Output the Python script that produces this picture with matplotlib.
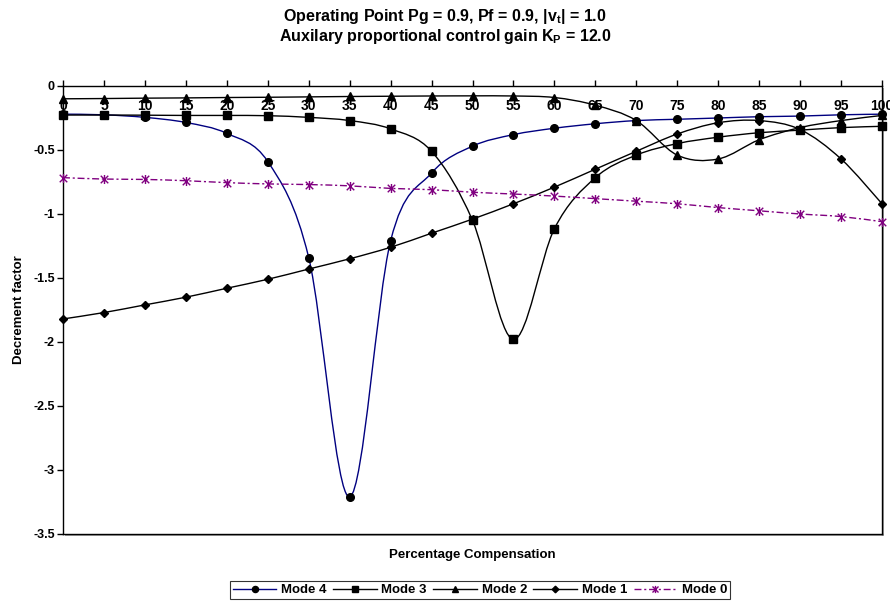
import matplotlib
matplotlib.use("Agg")
import matplotlib.pyplot as plt
import numpy as np
from matplotlib.lines import Line2D
from matplotlib.patches import PathPatch, Rectangle
from matplotlib.path import Path
from matplotlib.transforms import offset_copy

plt.rcParams["font.family"] = ["Liberation Sans", "DejaVu Sans"]
plt.rcParams["font.weight"] = "bold"
plt.rcParams["mathtext.fontset"] = "custom"
plt.rcParams["mathtext.rm"] = "Liberation Sans:bold"
plt.rcParams["mathtext.it"] = "Liberation Sans:bold"
plt.rcParams["mathtext.bf"] = "Liberation Sans:bold"

# Percentage compensation (x axis)
compensation = [0, 5, 10, 15, 20, 25, 30, 35, 40, 45, 50,
                55, 60, 65, 70, 75, 80, 85, 90, 95, 100]

mode4 = [-0.22, -0.225, -0.245, -0.285, -0.37, -0.59, -1.34, -3.21, -1.21, -0.68, -0.47,
         -0.38, -0.33, -0.295, -0.27, -0.26, -0.25, -0.24, -0.235, -0.225, -0.22]
mode3 = [-0.227, -0.227, -0.228, -0.23, -0.23, -0.232, -0.245, -0.27, -0.335, -0.51, -1.05,
         -1.98, -1.115, -0.716, -0.54, -0.45, -0.40, -0.365, -0.345, -0.325, -0.315]
mode2 = [-0.10, -0.098, -0.095, -0.093, -0.09, -0.088, -0.085, -0.082, -0.08, -0.078, -0.077,
         -0.078, -0.09, -0.15, -0.27, -0.54, -0.57, -0.42, -0.325, -0.27, -0.23]
mode1 = [-1.82, -1.77, -1.71, -1.65, -1.58, -1.51, -1.43, -1.35, -1.26, -1.15, -1.04,
         -0.92, -0.79, -0.65, -0.51, -0.375, -0.287, -0.27, -0.34, -0.57, -0.92]
mode0 = [-0.716, -0.727, -0.73, -0.74, -0.755, -0.765, -0.77, -0.78, -0.80, -0.81, -0.83,
         -0.844, -0.86, -0.88, -0.90, -0.92, -0.95, -0.975, -1.0, -1.02, -1.06]

y_ticks = [0, -0.5, -1, -1.5, -2, -2.5, -3, -3.5]
y_tick_labels = ["0", "-0.5", "-1", "-1.5", "-2", "-2.5", "-3", "-3.5"]

NAVY = "#000080"
PURPLE = "#800080"

# Excel-style asterisk marker: an x with a vertical stroke
star = Path([(-1, -1), (1, 1), (-1, 1), (1, -1), (0, -1.2), (0, 1.2)],
            [Path.MOVETO, Path.LINETO, Path.MOVETO, Path.LINETO, Path.MOVETO, Path.LINETO])


def smooth_path(x, y):
    """Bezier path through the points, like Excel's smoothed line."""
    pts = np.column_stack([x, y]).astype(float)
    n = len(pts)
    verts = [pts[0]]
    codes = [Path.MOVETO]
    for i in range(n - 1):
        p0 = pts[max(i - 1, 0)]
        p1 = pts[i]
        p2 = pts[i + 1]
        p3 = pts[min(i + 2, n - 1)]
        verts += [p1 + (p2 - p0) / 6, p2 - (p3 - p1) / 6, p2]
        codes += [Path.CURVE4] * 3
    return Path(verts, codes)


series = [
    ("Mode 4", mode4, NAVY, "-", dict(marker="o", color="black", ms=5.5)),
    ("Mode 3", mode3, "black", "-", dict(marker="s", color="black", ms=5.5)),
    ("Mode 2", mode2, "black", "-", dict(marker="^", color="black", ms=5.5)),
    ("Mode 1", mode1, "black", "-", dict(marker="D", color="black", ms=4.2)),
    ("Mode 0", mode0, PURPLE, (0, (5, 2, 1.5, 2)),
     dict(marker=star, color=PURPLE, ms=6.5, mew=1.0)),
]

fig = plt.figure(figsize=(8.9, 6.06), dpi=100)
ax = fig.add_axes([63 / 890, 1 - 534 / 606, (882 - 63) / 890, (534 - 86) / 606])

# plot-area shadow
shadow = Rectangle((0, 0), 1, 1, transform=offset_copy(ax.transAxes, fig=fig, x=1.5, y=-1.5, units="dots"),
                   facecolor="#a0a0a0", edgecolor="none", zorder=-1, clip_on=False)
fig.patches.append(shadow)
ax.set_facecolor("white")

handles = []
for name, vals, lcolor, ls, mk in series:
    ax.add_patch(PathPatch(smooth_path(compensation, vals), fill=False,
                           edgecolor=lcolor, lw=1.0, linestyle=ls, zorder=2))
    ax.plot(compensation, vals, linestyle="none", marker=mk["marker"],
            markersize=mk["ms"], color=mk["color"], mec=mk["color"],
            mew=mk.get("mew", 1.0), zorder=3, clip_on=False)
    handles.append(Line2D([], [], color=lcolor, lw=1.0, linestyle=ls,
                          marker=mk["marker"], markersize=mk["ms"] * 0.8,
                          mfc=mk["color"], mec=mk["color"], mew=mk.get("mew", 1.0),
                          label=name))

ax.set_xlim(0, 100)
ax.set_ylim(-3.5, 0)
for s in ax.spines.values():
    s.set_color("black")
    s.set_linewidth(1.0)

ax.set_yticks(y_ticks)
ax.set_yticklabels(y_tick_labels, fontsize=9, fontweight="bold")
ax.tick_params(axis="y", direction="out", length=4, width=1, pad=2)

# category axis sits on y = 0 with labels drawn just below it
ax.set_xticks(compensation)
ax.tick_params(axis="x", top=True, bottom=False, labelbottom=False,
               direction="out", length=4, width=1)
for xv in compensation:
    ax.annotate(str(xv), (xv, 0), xytext=(0, -9), textcoords="offset points",
                ha="center", va="top", fontsize=10, fontweight="bold", zorder=4)

ax.set_xlabel("Percentage Compensation", fontsize=9.5, fontweight="bold", labelpad=11)
ax.set_ylabel("Decrement factor", fontsize=9.5, fontweight="bold", labelpad=6)

fig.text(0.5, 1 - 16 / 606, r"Operating Point Pg = 0.9, Pf = 0.9, |v$_\mathrm{t}$| = 1.0",
         ha="center", va="center", fontsize=11.5, fontweight="bold")
fig.text(0.5, 1 - 37 / 606, r"Auxilary proportional control gain K$_\mathrm{P}$ = 12.0",
         ha="center", va="center", fontsize=11.5, fontweight="bold")

leg = fig.legend(handles=handles, loc="center", bbox_to_anchor=(480 / 890, 1 - 590 / 606),
                 ncol=5, fontsize=9.5, frameon=True, fancybox=False, handlelength=3.3,
                 columnspacing=0.5, handletextpad=0.35, borderpad=0.2, borderaxespad=0)
leg.get_frame().set_edgecolor("black")
leg.get_frame().set_linewidth(0.8)
for t in leg.get_texts():
    t.set_fontweight("bold")

fig.savefig("out.png", dpi=100)
